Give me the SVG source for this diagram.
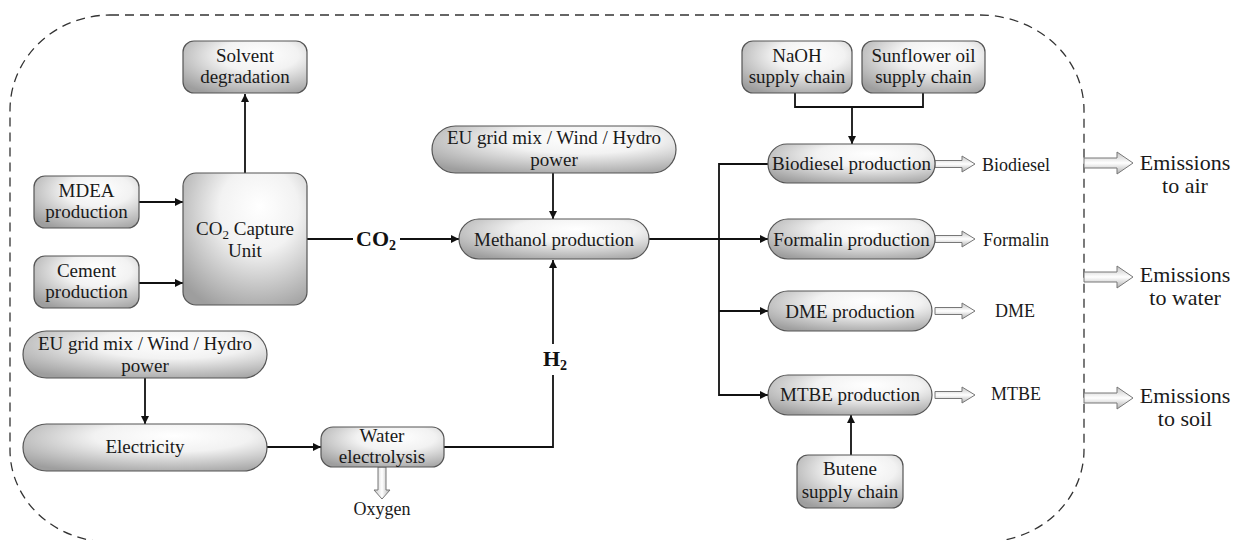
<svg xmlns="http://www.w3.org/2000/svg" width="1236" height="540" viewBox="0 0 1236 540">
<defs>
<radialGradient id="g" cx="0.6" cy="0.3" r="0.8" fx="0.62" fy="0.25">
<stop offset="0" stop-color="#ffffff"/>
<stop offset="0.4" stop-color="#f2f2f2"/>
<stop offset="1" stop-color="#9e9e9e"/>
</radialGradient>
<linearGradient id="ha" x1="0" y1="0" x2="0" y2="1">
<stop offset="0" stop-color="#c4c4c4"/>
<stop offset="0.5" stop-color="#ffffff"/>
<stop offset="1" stop-color="#b0b0b0"/>
</linearGradient>
<linearGradient id="hv" x1="0" y1="0" x2="1" y2="0">
<stop offset="0" stop-color="#c4c4c4"/>
<stop offset="0.5" stop-color="#ffffff"/>
<stop offset="1" stop-color="#b0b0b0"/>
</linearGradient>
<marker id="ar" viewBox="0 0 10 10" refX="10" refY="5" markerWidth="8" markerHeight="8" markerUnits="userSpaceOnUse" orient="auto">
<path d="M0,0 L10,5 L0,10 z" fill="#111"/>
</marker>
</defs>
<style>
.n{fill:url(#g);stroke:#555;stroke-width:1.2}
text{font-family:'Liberation Serif','Times New Roman',serif;fill:#1a1a1a}
.t{font-size:19px;text-anchor:middle}
.l{font-size:18px}
.e{font-size:22px;text-anchor:middle}
.b{font-size:22px;font-weight:bold;fill:#111;text-anchor:middle}
.c{fill:none;stroke:#111;stroke-width:1.8}
.h{fill:url(#ha);stroke:#777;stroke-width:1}
.hv{fill:url(#hv);stroke:#777;stroke-width:1}
.bd{fill:none;stroke:#333;stroke-width:1.3;stroke-dasharray:9,6}
</style>
<rect width="1236" height="540" fill="#fff"/>
<path class="bd" d="M110,15 H980 A104,95 0 0 1 1084,110 V450 A100,92 0 0 1 984,542 H110 A100,92 0 0 1 10,450 V110 A100,95 0 0 1 110,15 Z"/>

<g id="connectors">
<path class="c" d="M245,173 V94" marker-end="url(#ar)"/>
<path class="c" d="M139,202 H183" marker-end="url(#ar)"/>
<path class="c" d="M139,283 H183" marker-end="url(#ar)"/>
<path class="c" d="M307,239 H353"/>
<path class="c" d="M400,239 H459" marker-end="url(#ar)"/>
<path class="c" d="M553,173 V219" marker-end="url(#ar)"/>
<path class="c" d="M553,344 V260" marker-end="url(#ar)"/>
<path class="c" d="M444,447 H553 V375"/>
<path class="c" d="M145,378 V424" marker-end="url(#ar)"/>
<path class="c" d="M267,447 H321" marker-end="url(#ar)"/>
<path class="c" d="M649,239 H768" marker-end="url(#ar)"/>
<path class="c" d="M768,164 H719 V395 H768" marker-end="url(#ar)"/>
<path class="c" d="M719,311 H768" marker-end="url(#ar)"/>
<path class="c" d="M795,93 V107 H923 V93"/>
<path class="c" d="M852,107 V144" marker-end="url(#ar)"/>
<path class="c" d="M851,455 V415" marker-end="url(#ar)"/>
<path class="h" d="M935,160.5 H962 V156 L975,164 L962,172 V167.5 H935 Z"/>
<path class="h" d="M935,235.5 H962 V231 L975,239 L962,247 V242.5 H935 Z"/>
<path class="h" d="M935,307.5 H962 V303 L975,311 L962,319 V314.5 H935 Z"/>
<path class="h" d="M935,391.5 H962 V387 L975,395 L962,403 V398.5 H935 Z"/>
<path class="hv" d="M378,467 V490 H374 L382,499 L390,490 H386 V467 Z"/>
<path class="h" d="M1084,158 H1117 V152 L1133,163 L1117,174 V168 H1084 Z"/>
<path class="h" d="M1084,272 H1117 V266 L1133,277 L1117,288 V282 H1084 Z"/>
<path class="h" d="M1084,393 H1117 V387 L1133,398 L1117,409 V403 H1084 Z"/>
<text class="b" x="376" y="246">CO<tspan font-size="14" dy="4">2</tspan></text>
<text class="b" x="555" y="366">H<tspan font-size="14" dy="4">2</tspan></text>
</g>

<g id="solvent"><rect class="n" x="183" y="41" width="124" height="52" rx="11"/><text class="t" x="245" y="62">Solvent</text><text class="t" x="245" y="83">degradation</text></g>
<g id="mdea"><rect class="n" x="34" y="176" width="105" height="52" rx="11"/><text class="t" x="86.5" y="197">MDEA</text><text class="t" x="86.5" y="218">production</text></g>
<g id="cement"><rect class="n" x="34" y="256" width="105" height="52" rx="11"/><text class="t" x="86.5" y="277">Cement</text><text class="t" x="86.5" y="298">production</text></g>
<g id="capture"><rect class="n" x="183" y="173" width="124" height="132" rx="13"/><text class="t" x="245" y="235">CO<tspan font-size="13" dy="4">2</tspan><tspan dy="-4"> Capture</tspan></text><text class="t" x="245" y="257">Unit</text></g>
<g id="grid1"><rect class="n" x="432" y="126" width="244" height="47" rx="23.5"/><text class="t" x="554" y="144">EU grid mix / Wind / Hydro</text><text class="t" x="554" y="166">power</text></g>
<g id="methanol"><rect class="n" x="459" y="219" width="190" height="40" rx="20"/><text class="t" x="554" y="246">Methanol production</text></g>
<g id="grid2"><rect class="n" x="23" y="331" width="244" height="47" rx="23.5"/><text class="t" x="145" y="350">EU grid mix / Wind / Hydro</text><text class="t" x="145" y="372">power</text></g>
<g id="electricity"><rect class="n" x="23" y="424" width="244" height="47" rx="23.5"/><text class="t" x="145" y="453">Electricity</text></g>
<g id="electrolysis"><rect class="n" x="321" y="427" width="123" height="40" rx="12"/><text class="t" x="382" y="442">Water</text><text class="t" x="382" y="463">electrolysis</text></g>
<g id="naoh"><rect class="n" x="742" y="41" width="110" height="52" rx="11"/><text class="t" x="797" y="62">NaOH</text><text class="t" x="797" y="83">supply chain</text></g>
<g id="sunflower"><rect class="n" x="862" y="41" width="123" height="52" rx="11"/><text class="t" x="923.5" y="62">Sunflower oil</text><text class="t" x="923.5" y="83">supply chain</text></g>
<g id="biodiesel"><rect class="n" x="768" y="144" width="167" height="39" rx="19"/><text class="t" x="851.5" y="170">Biodiesel production</text></g>
<g id="formalin"><rect class="n" x="768" y="219" width="167" height="40" rx="20"/><text class="t" x="851.5" y="246">Formalin production</text></g>
<g id="dme"><rect class="n" x="768" y="291" width="164" height="40" rx="20"/><text class="t" x="850" y="318">DME production</text></g>
<g id="mtbe"><rect class="n" x="768" y="375" width="164" height="40" rx="20"/><text class="t" x="850" y="401">MTBE production</text></g>
<g id="butene"><rect class="n" x="797" y="455" width="106" height="53" rx="11"/><text class="t" x="850" y="475">Butene</text><text class="t" x="850" y="498">supply chain</text></g>

<g id="labels">
<text class="l" x="982" y="171">Biodiesel</text>
<text class="l" x="983" y="246">Formalin</text>
<text class="l" x="995" y="317">DME</text>
<text class="l" x="991" y="400">MTBE</text>
<text class="l" x="382" y="515" text-anchor="middle">Oxygen</text>
<text class="e" x="1185" y="170">Emissions</text><text class="e" x="1185" y="193">to air</text>
<text class="e" x="1185" y="282">Emissions</text><text class="e" x="1185" y="305">to water</text>
<text class="e" x="1185" y="403">Emissions</text><text class="e" x="1185" y="426">to soil</text>
</g>
</svg>
